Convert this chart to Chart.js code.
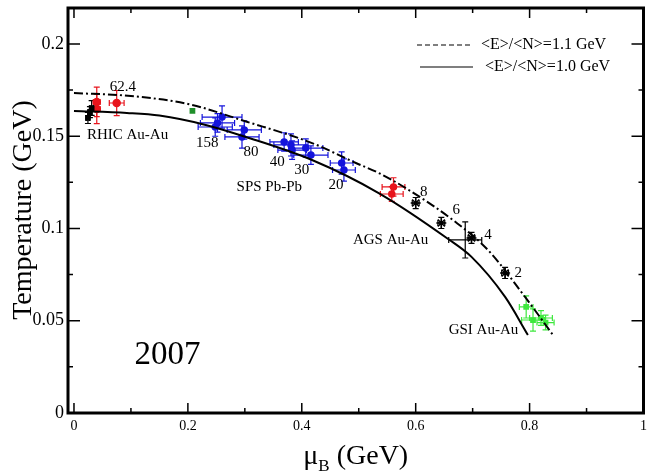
<!DOCTYPE html>
<html>
<head>
<meta charset="utf-8">
<script src="https://cdn.jsdelivr.net/npm/chart.js@4/dist/chart.umd.min.js"></script>
<style>
  body { margin: 0; background: #fff; }
  #freezeout { display: block; }
</style>
</head>
<body>
<canvas id="freezeout" width="650" height="476"></canvas>
<script>
/* Freeze-out curves: <E>/<N> = 1.0 and 1.1 GeV */
const solidMu = [0.0, 0.093, 0.150, 0.233, 0.302, 0.418, 0.535, 0.657, 0.698, 0.757, 0.797];
const solidT = [0.1637, 0.1626, 0.1612, 0.1560, 0.1496, 0.1371, 0.1192, 0.0943, 0.0846, 0.0629, 0.0423];

const dashedMu = [0.0, 0.100, 0.200, 0.302, 0.418, 0.495, 0.535, 0.582, 0.670, 0.727, 0.792, 0.841];
const dashedT = [0.1734, 0.1718, 0.1675, 0.1580, 0.1463, 0.1355, 0.1301, 0.1220, 0.1035, 0.0883, 0.0629, 0.0423];

/* RHIC Au-Au */
const rhicBlackMu = [0.0245, 0.028, 0.031];
const rhicBlackT = [0.1599, 0.1631, 0.1653];
const rhicBlackErrMu = [0.003, 0.003, 0.003];
const rhicBlackErrT = [0.003, 0.003, 0.004];

const rhicRedMu = [0.040, 0.040, 0.075];
const rhicRedT = [0.1686, 0.1648, 0.1680];
const rhicRedErrMu = [0.006, 0.006, 0.013];
const rhicRedErrT = [0.008, 0.008, 0.0068];

const greenMu = [0.208];
const greenT = [0.1637];

/* SPS Pb-Pb */
const spsMu = [0.248, 0.260, 0.252, 0.299, 0.295, 0.369, 0.381, 0.383, 0.407, 0.416, 0.470, 0.474];
const spsT = [0.1550, 0.1604, 0.1572, 0.1534, 0.1496, 0.1469, 0.1453, 0.1425, 0.1436, 0.1398, 0.1355, 0.1317];
const spsErrMu = [0.03, 0.035, 0.03, 0.03, 0.03, 0.025, 0.03, 0.025, 0.03, 0.03, 0.02, 0.02];
const spsErrT = [0.005, 0.006, 0.005, 0.005, 0.006, 0.005, 0.006, 0.005, 0.005, 0.005, 0.006, 0.006];

const redSpsMu = [0.561, 0.558];
const redSpsT = [0.1225, 0.1187];
const redSpsErrMu = [0.02, 0.02];
const redSpsErrT = [0.005, 0.004];

/* AGS Au-Au */
const agsMu = [0.600, 0.645, 0.698, 0.757];
const agsT = [0.1138, 0.1030, 0.0949, 0.0759];
const agsErrMu = [0.006, 0.006, 0.006, 0.006];
const agsErrT = [0.003, 0.003, 0.003, 0.003];

const agsWideMu = [0.687];
const agsWideT = [0.0938];
const agsWideErrMu = [0.029];
const agsWideErrT = [0.0098];

/* GSI Au-Au */
const gsiMu = [0.794, 0.806, 0.820, 0.828];
const gsiT = [0.0575, 0.0504, 0.0515, 0.0490];
const gsiErrMu = [0.012, 0.02, 0.02, 0.015];
const gsiErrT = [0.006, 0.006, 0.004, 0.004];

/* text placed in data coordinates */
const noteText = ['62.4', 'RHIC Au-Au', '158', '80', '40', '30', 'SPS Pb-Pb', '20', '8', '6', '4', '2', 'AGS Au-Au', 'GSI Au-Au'];
const noteMu = [0.086, 0.094, 0.234, 0.311, 0.357, 0.400, 0.343, 0.460, 0.614, 0.671, 0.727, 0.780, 0.556, 0.719];
const noteT = [0.1767, 0.1507, 0.1463, 0.1415, 0.1360, 0.1317, 0.1225, 0.1236, 0.1198, 0.1100, 0.0965, 0.0759, 0.0938, 0.0450];

const xTickValues = [0, 0.2, 0.4, 0.6, 0.8, 1];
const xTickLabels = ['0', '0.2', '0.4', '0.6', '0.8', '1'];
const yTickValues = [0, 0.05, 0.1, 0.15, 0.2];
const yTickLabels = ['0', '0.05', '0.1', '0.15', '0.2'];

const legendLabels = ['<E>/<N>=1.1 GeV', '<E>/<N>=1.0 GeV'];

const SERIF = '"Liberation Serif", "DejaVu Serif", serif';

function pts(xs, ys) {
  return xs.map((x, i) => ({ x: x, y: ys[i] }));
}

function markers(label, xs, ys, color, style, radius, ex, ey) {
  return {
    label: label,
    data: pts(xs, ys),
    showLine: false,
    pointStyle: style,
    pointRadius: radius,
    pointBackgroundColor: color,
    pointBorderColor: color,
    pointBorderWidth: 1.5,
    borderColor: color,
    errX: ex,
    errY: ey,
  };
}

const datasets = [
  {
    label: 'E/N=1.1',
    data: pts(dashedMu, dashedT),
    showLine: true,
    borderColor: '#000',
    borderWidth: 2,
    borderDash: [9, 3, 2, 3],
    pointRadius: 0,
    cubicInterpolationMode: 'monotone',
  },
  {
    label: 'E/N=1.0',
    data: pts(solidMu, solidT),
    showLine: true,
    borderColor: '#000',
    borderWidth: 2,
    pointRadius: 0,
    cubicInterpolationMode: 'monotone',
  },
  markers('RHIC black', rhicBlackMu, rhicBlackT, '#000', 'rect', 3, rhicBlackErrMu, rhicBlackErrT),
  markers('RHIC red', rhicRedMu, rhicRedT, '#e8141c', 'circle', 3.5, rhicRedErrMu, rhicRedErrT),
  markers('green', greenMu, greenT, '#1f8f2a', 'rect', 3, null, null),
  markers('SPS', spsMu, spsT, '#1414dc', 'circle', 3, spsErrMu, spsErrT),
  markers('SPS red', redSpsMu, redSpsT, '#e8141c', 'circle', 3, redSpsErrMu, redSpsErrT),
  markers('AGS wide', agsWideMu, agsWideT, '#000', 'circle', 0, agsWideErrMu, agsWideErrT),
  markers('AGS', agsMu, agsT, '#000', 'star', 5, agsErrMu, agsErrT),
  markers('GSI', gsiMu, gsiT, '#3ee83e', 'rect', 3, gsiErrMu, gsiErrT),
];

// error bars with small caps, drawn under the markers
const errorBars = {
  id: 'errorBars',
  beforeDatasetsDraw(chart) {
    const { ctx } = chart;
    const xs = chart.scales.x, ys = chart.scales.y;
    chart.data.datasets.forEach((ds) => {
      if (!ds.errX && !ds.errY) return;
      ctx.save();
      ctx.strokeStyle = ds.borderColor;
      ctx.lineWidth = 1.2;
      ds.data.forEach((p, i) => {
        const px = xs.getPixelForValue(p.x);
        const py = ys.getPixelForValue(p.y);
        ctx.beginPath();
        if (ds.errX) {
          const a = xs.getPixelForValue(p.x - ds.errX[i]);
          const b = xs.getPixelForValue(p.x + ds.errX[i]);
          ctx.moveTo(a, py); ctx.lineTo(b, py);
          ctx.moveTo(a, py - 3); ctx.lineTo(a, py + 3);
          ctx.moveTo(b, py - 3); ctx.lineTo(b, py + 3);
        }
        if (ds.errY) {
          const a = ys.getPixelForValue(p.y - ds.errY[i]);
          const b = ys.getPixelForValue(p.y + ds.errY[i]);
          ctx.moveTo(px, a); ctx.lineTo(px, b);
          ctx.moveTo(px - 3, a); ctx.lineTo(px + 3, a);
          ctx.moveTo(px - 3, b); ctx.lineTo(px + 3, b);
        }
        ctx.stroke();
      });
      ctx.restore();
    });
  },
};

// frame, ticks, labels, titles, notes and legend
const decorations = {
  id: 'decorations',
  afterDraw(chart) {
    const { ctx, chartArea: area } = chart;
    const xs = chart.scales.x, ys = chart.scales.y;
    ctx.save();
    ctx.fillStyle = '#000';
    ctx.strokeStyle = '#000';

    // ticks on all four sides
    ctx.lineWidth = 1.5;
    ctx.beginPath();
    for (let i = 0; i <= 10; i++) {
      const px = xs.getPixelForValue(i / 10);
      const len = i % 2 === 0 ? 10 : 5;
      ctx.moveTo(px, area.bottom); ctx.lineTo(px, area.bottom - len);
      ctx.moveTo(px, area.top); ctx.lineTo(px, area.top + len);
    }
    for (let i = 0; i <= 8; i++) {
      const py = ys.getPixelForValue(i * 0.025);
      const len = i % 2 === 0 ? 12 : 5;
      ctx.moveTo(area.left, py); ctx.lineTo(area.left + len, py);
      ctx.moveTo(area.right, py); ctx.lineTo(area.right - len, py);
    }
    ctx.stroke();

    // frame
    ctx.lineWidth = 3;
    ctx.strokeRect(area.left, area.top, area.right - area.left, area.bottom - area.top);

    // tick labels
    ctx.font = '14px ' + SERIF;
    ctx.textAlign = 'center';
    ctx.textBaseline = 'middle';
    xTickValues.forEach((v, i) => {
      ctx.fillText(xTickLabels[i], xs.getPixelForValue(v), area.bottom + 13);
    });
    ctx.font = '18px ' + SERIF;
    ctx.textAlign = 'right';
    yTickValues.forEach((v, i) => {
      ctx.fillText(yTickLabels[i], area.left - 4, ys.getPixelForValue(v));
    });

    // axis titles
    ctx.save();
    ctx.translate(24, 210);
    ctx.rotate(-Math.PI / 2);
    ctx.textAlign = 'center';
    ctx.font = '28px ' + SERIF;
    ctx.fillText('Temperature (GeV)', 0, 0);
    ctx.restore();

    ctx.textAlign = 'left';
    ctx.textBaseline = 'alphabetic';
    ctx.font = '28px ' + SERIF;
    const mu = 'μ', rest = ' (GeV)';
    ctx.font = '17px ' + SERIF;
    const wB = ctx.measureText('B').width;
    ctx.font = '28px ' + SERIF;
    const wMu = ctx.measureText(mu).width;
    const wRest = ctx.measureText(rest).width;
    let tx = (area.left + area.right) / 2 - (wMu + wB + wRest) / 2;
    ctx.fillText(mu, tx, 464);
    ctx.font = '17px ' + SERIF;
    ctx.fillText('B', tx + wMu, 471);
    ctx.font = '28px ' + SERIF;
    ctx.fillText(rest, tx + wMu + wB, 464);

    // notes in data coordinates
    ctx.font = '15px ' + SERIF;
    ctx.textAlign = 'center';
    ctx.textBaseline = 'middle';
    noteText.forEach((t, i) => {
      ctx.fillText(t, xs.getPixelForValue(noteMu[i]), ys.getPixelForValue(noteT[i]));
    });
    ctx.font = '33px ' + SERIF;
    ctx.fillText('2007', xs.getPixelForValue(0.164), ys.getPixelForValue(0.0314));

    // legend
    ctx.lineWidth = 1.2;
    ctx.beginPath();
    ctx.setLineDash([5, 3]);
    ctx.moveTo(417, 45); ctx.lineTo(472, 45);
    ctx.stroke();
    ctx.beginPath();
    ctx.setLineDash([]);
    ctx.moveTo(420, 67); ctx.lineTo(473, 67);
    ctx.stroke();
    ctx.font = '16px ' + SERIF;
    ctx.textAlign = 'left';
    ctx.fillText(legendLabels[0], 481, 45);
    ctx.fillText(legendLabels[1], 485, 67);

    ctx.restore();
  },
};

new Chart(document.getElementById('freezeout'), {
  type: 'scatter',
  data: { datasets: datasets },
  options: {
    responsive: false,
    animation: false,
    layout: { padding: { left: 68, right: 3, top: 8, bottom: 63 } },
    plugins: { legend: { display: false }, tooltip: { enabled: false } },
    scales: {
      x: { type: 'linear', display: false, min: -0.0105, max: 1.0 },
      y: { type: 'linear', display: false, min: 0, max: 0.2195 },
    },
  },
  plugins: [errorBars, decorations],
});
</script>
</body>
</html>
